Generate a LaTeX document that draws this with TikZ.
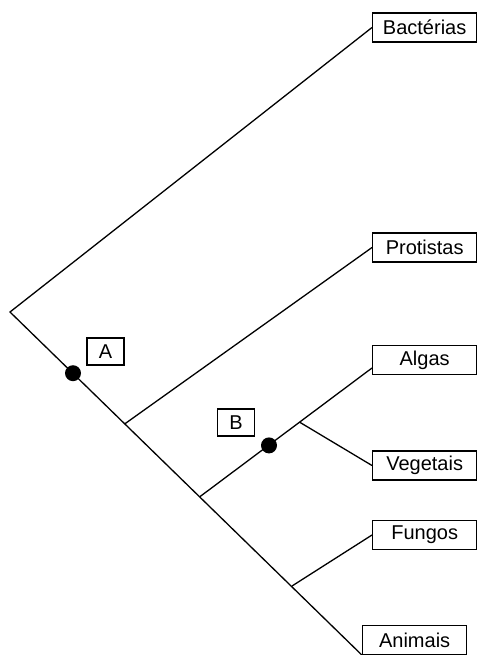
\documentclass[tikz,border=0pt]{standalone}
\usepackage{fontspec}
\setmainfont{Liberation Sans}
\begin{document}
\begin{tikzpicture}[x=1pt,y=-1pt,
  every node/.style={font=\fontsize{20}{24}\selectfont},
  taxon/.style={draw,line width=1.3pt,minimum width=104pt,minimum height=29pt,inner sep=0pt,anchor=west},
  tag/.style={draw,line width=1.3pt,minimum width=37pt,minimum height=27pt,inner sep=0pt},
  branch/.style={line width=1.3pt},
  dot/.style={circle,fill=black,minimum size=16pt,inner sep=0pt}]
\useasboundingbox (0,0) rectangle (476,655);
\node[taxon] (bac) at (372,27.5) {Bactérias};
\node[taxon] (pro) at (372,247.5) {Protistas};
\node[taxon] (alg) at (372,360) {Algas};
\node[taxon] (veg) at (372,465.5) {Vegetais};
\node[taxon] (fun) at (372,535) {Fungos};
\node[taxon] (ani) at (362,640) {Animais};
\coordinate (root) at (10,312);
\coordinate (p1) at (125,423.7);
\coordinate (p2) at (200,496.6);
\coordinate (p3) at (292,586);
\coordinate (p4) at (300,422.4);
\draw[branch] (bac.west) -- (root) -- (ani.south west);
\draw[branch] (p1) -- (pro.west);
\draw[branch] (p2) -- ([yshift=-8pt]alg.west);
\draw[branch] (p4) -- (veg.west);
\draw[branch] (p3) -- (fun.west);
\node[dot] (da) at (73,373.2) {};
\node[dot] (db) at (269,445.4) {};
\node[tag] (ta) at (105.5,351.5) {A};
\node[tag] (tb) at (236,422.5) {B};
\end{tikzpicture}
\end{document}
